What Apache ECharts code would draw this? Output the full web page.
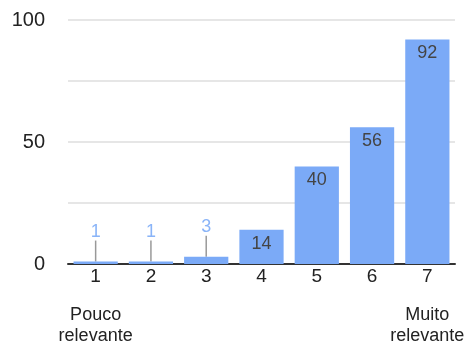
<!DOCTYPE html>
<html>
<head>
<meta charset="utf-8">
<script src="https://cdn.jsdelivr.net/npm/echarts@6/dist/echarts.min.js"></script>
<style>
  html, body { margin: 0; padding: 0; background: #fff; }
  #chart { width: 465px; height: 345px; }
</style>
</head>
<body>
<div id="chart"></div>
<script>
// Relevance scale 1..7 and number of answers per step
const categories = ['1', '2', '3', '4', '5', '6', '7'];
const counts = [1, 1, 3, 14, 40, 56, 92];
const yTicks = [0, 50, 100];
const scaleEnds = { '1': ['Pouco', 'relevante'], '7': ['Muito', 'relevante'] };

// Bars this short get their value lifted above them with a leader line
const smallLimit = 5;
const font = 'Arial, "Liberation Sans", sans-serif';

const chart = echarts.init(document.getElementById('chart'), null, { renderer: 'canvas' });

const barData = counts.map(v => {
  if (v < smallLimit) {
    return {
      value: v,
      label: { position: 'top', distance: 4, color: '#8ab4f8' },
      labelLine: { show: true }
    };
  }
  return { value: v };
});

chart.setOption({
  animation: false,
  textStyle: { fontFamily: font },
  grid: { left: 68, right: 10, top: 20, bottom: 81, containLabel: false, outerBoundsMode: 'none' },
  xAxis: {
    type: 'category',
    data: categories,
    axisLine: { lineStyle: { color: '#333', width: 2 } },
    axisTick: { show: false },
    axisLabel: {
      margin: 3,
      interval: 0,
      formatter: c => {
        let s = '{n|' + c + '}';
        if (scaleEnds[c]) {
          s += '\n{s| }\n{d|' + scaleEnds[c][0] + '}\n{d|' + scaleEnds[c][1] + '}';
        }
        return s;
      },
      rich: {
        n: { fontSize: 19, lineHeight: 20, color: '#222', fontFamily: font },
        s: { fontSize: 2, lineHeight: 18 },
        d: { fontSize: 18, lineHeight: 21, color: '#222', fontFamily: font }
      }
    }
  },
  yAxis: {
    type: 'value',
    min: 0,
    max: 100,
    interval: 25,
    axisLine: { show: false },
    axisTick: { show: false },
    splitLine: { lineStyle: { color: '#e6e6e6', width: 2 } },
    axisLabel: {
      margin: 23,
      fontSize: 20,
      color: '#222',
      fontFamily: font,
      formatter: v => (yTicks.indexOf(v) >= 0 ? String(v) : '')
    }
  },
  series: [{
    type: 'bar',
    data: barData,
    barWidth: '80%',
    itemStyle: { color: '#7baaf7' },
    label: {
      show: true,
      position: 'insideTop',
      distance: 5,
      fontSize: 18,
      fontFamily: font,
      color: '#444'
    },
    labelLayout: params => (counts[params.dataIndex] < smallLimit ? { dy: -17 } : {}),
    labelLine: { show: true, lineStyle: { color: '#999', width: 1.5 } }
  }]
});
</script>
</body>
</html>
